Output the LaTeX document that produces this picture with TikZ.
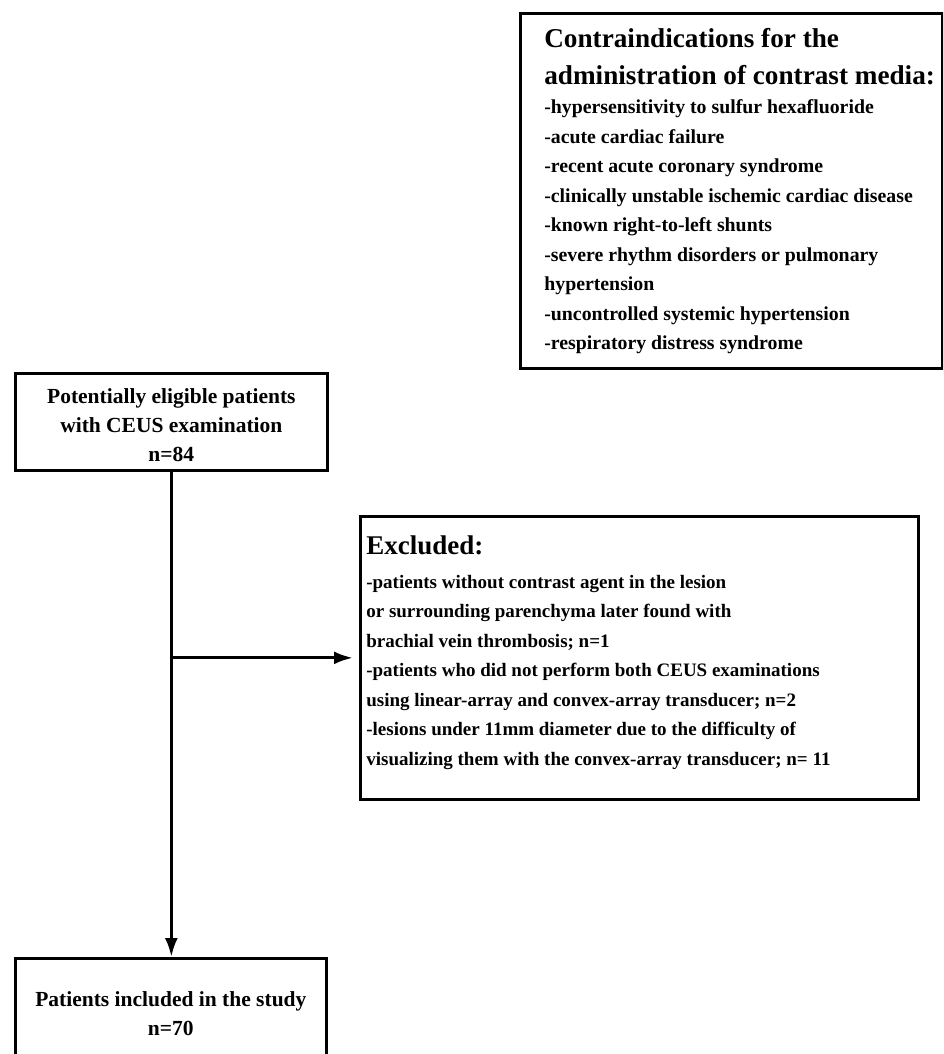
\documentclass[tikz,border=0pt]{standalone}
\usepackage{fontspec}
\setmainfont{Liberation Serif}[BoldFont={Liberation Serif Bold}]
\usetikzlibrary{arrows.meta}
\begin{document}
\begin{tikzpicture}[x=1pt,y=-1pt,
  boxstyle/.style={draw=black, line width=2.7pt, inner sep=0pt, anchor=north west, font=\bfseries},
  flow/.style={line width=3.2pt, -{Latex[length=19pt,width=13pt]}}]
\useasboundingbox (0,0) rectangle (943,1054);
\clip (0,0) rectangle (943,1054);
% contraindications box
\node[boxstyle] (contra) at (519,12) {\parbox[c][355pt][t]{422pt}{\leftskip=24pt\rightskip=0pt plus 1fil\parindent=0pt
{\fontsize{27.2}{37}\selectfont\rule{0pt}{34pt}Contraindications for the\\ administration of contrast media:\par}
{\fontsize{19.8}{29.5}\selectfont -hypersensitivity to sulfur hexafluoride\\
-acute cardiac failure\\
-recent acute coronary syndrome\\
-clinically unstable ischemic cardiac disease\\
-known right-to-left shunts\\
-severe rhythm disorders or pulmonary\\
hypertension\\
-uncontrolled systemic hypertension\\
-respiratory distress syndrome\par}}};
% eligible box
\node[boxstyle] (elig) at (14,372) {\parbox[c][97pt][t]{312pt}{\centering\fontsize{21.5}{29}\selectfont\rule{0pt}{30pt}Potentially eligible patients\\ with CEUS examination\\ n=84}};
% excluded box
\node[boxstyle] (excl) at (359,515) {\parbox[c][283pt][t]{558pt}{\leftskip=6pt\rightskip=0pt plus 1fil\parindent=0pt
{\fontsize{27}{34}\selectfont\rule{0pt}{38pt}Excluded:\par}\vspace{4.5pt}
{\fontsize{19}{29.5}\selectfont -patients without contrast agent in the lesion\\
or surrounding parenchyma later found with\\
brachial vein thrombosis; n=1\\
-patients who did not perform both CEUS examinations\\
using linear-array and convex-array transducer; n=2\\
-lesions under 11mm diameter due to the difficulty of\\
visualizing them with the convex-array transducer; n= 11\par}}};
% included box
\node[boxstyle] (incl) at (14,957) {\parbox[c][130pt][t]{311pt}{\centering\fontsize{21.5}{29}\selectfont\rule{0pt}{48pt}Patients included in the study\\ n=70}};
% connectors
\draw[flow] (elig.south) -- (elig.south |- incl.north);
\coordinate (branch) at (elig.south |- excl.west);
\draw[flow, shorten >=6pt] (branch) -- (excl.west);
\end{tikzpicture}
\end{document}
